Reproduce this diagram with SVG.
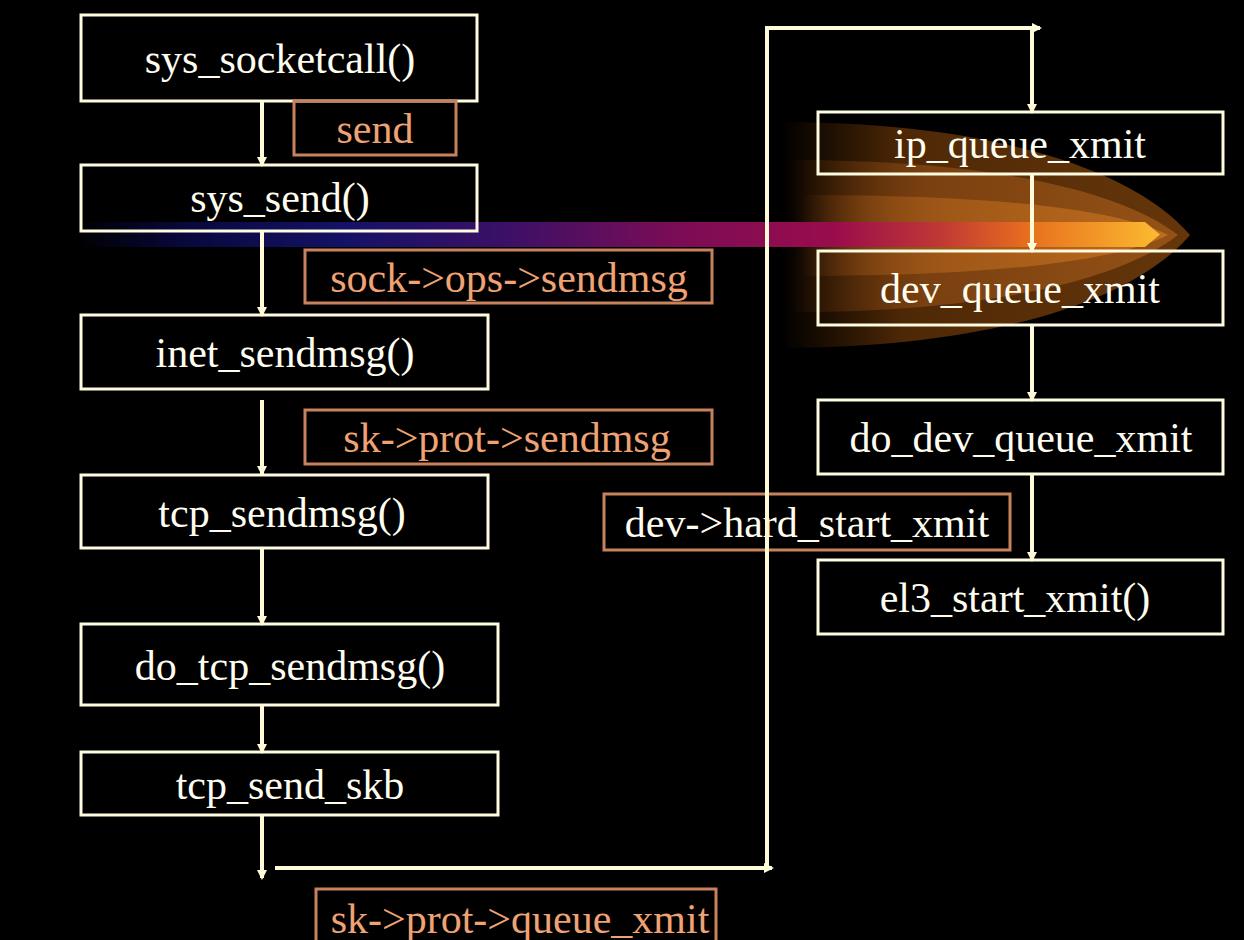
<svg xmlns="http://www.w3.org/2000/svg" width="1244" height="940" viewBox="0 0 1244 940">
<defs>
<style>
.node rect{fill:none;stroke:#FFFBE0;stroke-width:3}
.node text{font-family:"Liberation Serif","Times New Roman",serif;font-size:42px;fill:#FFFDF0;text-anchor:middle}
.lbl rect{fill:none;stroke:#C8825C;stroke-width:3}
.lbl text{font-family:"Liberation Serif","Times New Roman",serif;font-size:42px;fill:#EFA274;text-anchor:middle}
.lbl text.w{fill:#FFFDF0}
.conn line{stroke:#FFFBD8;stroke-width:4;marker-end:url(#ah)}
</style>
<marker id="ah" viewBox="0 0 10 10" refX="8" refY="5" markerWidth="2.6" markerHeight="2.6" orient="auto" markerUnits="strokeWidth">
<path d="M0,0 L10,5 L0,10 Z" fill="#FFFBD8"/>
</marker>
<linearGradient id="band" gradientUnits="userSpaceOnUse" x1="75" y1="0" x2="1160" y2="0">
<stop offset="0" stop-color="#000000"/>
<stop offset="0.1" stop-color="#08083c"/>
<stop offset="0.25" stop-color="#141266"/>
<stop offset="0.4" stop-color="#3c1066"/>
<stop offset="0.55" stop-color="#7a0c56"/>
<stop offset="0.7" stop-color="#9a0c4c"/>
<stop offset="0.8" stop-color="#c03a34"/>
<stop offset="0.88" stop-color="#e8701e"/>
<stop offset="1" stop-color="#fbbb30"/>
</linearGradient>
<linearGradient id="g1" gradientUnits="userSpaceOnUse" x1="780" y1="0" x2="1190" y2="0">
<stop offset="0" stop-color="#4a2404" stop-opacity="0"/>
<stop offset="0.3" stop-color="#4e2806" stop-opacity="1"/>
<stop offset="1" stop-color="#66360a"/>
</linearGradient>
<linearGradient id="g2" gradientUnits="userSpaceOnUse" x1="790" y1="0" x2="1180" y2="0">
<stop offset="0" stop-color="#703a0e" stop-opacity="0"/>
<stop offset="0.35" stop-color="#7a4010" stop-opacity="1"/>
<stop offset="1" stop-color="#945216"/>
</linearGradient>
<linearGradient id="g3" gradientUnits="userSpaceOnUse" x1="800" y1="0" x2="1170" y2="0">
<stop offset="0" stop-color="#985216" stop-opacity="0"/>
<stop offset="0.4" stop-color="#a05818" stop-opacity="1"/>
<stop offset="1" stop-color="#bc6c1c"/>
</linearGradient>
</defs>
<rect x="0" y="0" width="1244" height="940" fill="#000000"/>
<g id="glow">
<path d="M780,122 C980,122 1130,165 1190,235 C1130,305 980,348 780,348 Z" fill="url(#g1)"/>
<path d="M790,160 C990,160 1120,190 1178,235 C1120,280 990,312 790,312 Z" fill="url(#g2)"/>
<path d="M800,195 C1000,195 1120,210 1168,235 C1120,260 1000,276 800,276 Z" fill="url(#g3)"/>
<path d="M75,222 H1145 L1160,234.5 L1145,247 H75 Z" fill="url(#band)"/>
</g>
<g id="n-sys_socketcall" class="node"><rect x="81" y="15" width="396" height="86"/><text x="280" y="73">sys_socketcall()</text></g>
<g id="n-sys_send" class="node"><rect x="81" y="165" width="396" height="66"/><text x="280" y="212">sys_send()</text></g>
<g id="n-inet_sendmsg" class="node"><rect x="81" y="315" width="407" height="74"/><text x="285" y="367">inet_sendmsg()</text></g>
<g id="n-tcp_sendmsg" class="node"><rect x="81" y="475" width="407" height="73"/><text x="282" y="527">tcp_sendmsg()</text></g>
<g id="n-do_tcp_sendmsg" class="node"><rect x="81" y="624" width="417" height="81"/><text x="290" y="680">do_tcp_sendmsg()</text></g>
<g id="n-tcp_send_skb" class="node"><rect x="81" y="752" width="417" height="63"/><text x="290" y="799">tcp_send_skb</text></g>
<g id="n-ip_queue_xmit" class="node"><rect x="818" y="112" width="405" height="62"/><text x="1020" y="158">ip_queue_xmit</text></g>
<g id="n-dev_queue_xmit" class="node"><rect x="818" y="251" width="405" height="74"/><text x="1020" y="303">dev_queue_xmit</text></g>
<g id="n-do_dev_queue_xmit" class="node"><rect x="818" y="400" width="405" height="74"/><text x="1021" y="452">do_dev_queue_xmit</text></g>
<g id="n-el3_start_xmit" class="node"><rect x="818" y="560" width="405" height="74"/><text x="1015" y="612">el3_start_xmit()</text></g>
<g id="l-send" class="lbl"><rect x="294" y="101" width="162" height="54"/><text x="375" y="143">send</text></g>
<g id="l-sock_ops_sendmsg" class="lbl"><rect x="305" y="250" width="407" height="53"/><text x="509" y="292">sock-&gt;ops-&gt;sendmsg</text></g>
<g id="l-sk_prot_sendmsg" class="lbl"><rect x="305" y="410" width="407" height="54"/><text x="507" y="452">sk-&gt;prot-&gt;sendmsg</text></g>
<g id="l-dev_hard_start_xmit" class="lbl"><rect x="604" y="494" width="406" height="56"/><text class="w" x="807" y="537">dev-&gt;hard_start_xmit</text></g>
<g id="l-sk_prot_queue_xmit" class="lbl"><rect x="316" y="889" width="400" height="60"/><text x="520" y="933">sk-&gt;prot-&gt;queue_xmit</text></g>
<g id="connectors" class="conn">
<line x1="262" y1="101" x2="262" y2="165"/>
<line x1="262" y1="231" x2="262" y2="315"/>
<line x1="262" y1="400" x2="262" y2="474"/>
<line x1="262" y1="548" x2="262" y2="624"/>
<line x1="262" y1="705" x2="262" y2="752"/>
<line x1="262" y1="815" x2="262" y2="878"/>
<line x1="275" y1="868" x2="772" y2="868"/>
<line x1="767" y1="870" x2="767" y2="26" style="marker-end:none"/>
<line x1="765" y1="28" x2="1040" y2="28"/>
<line x1="1032" y1="28" x2="1032" y2="112"/>
<line x1="1032" y1="174" x2="1032" y2="251"/>
<line x1="1032" y1="325" x2="1032" y2="400"/>
<line x1="1032" y1="474" x2="1032" y2="560"/>
</g>
</svg>
